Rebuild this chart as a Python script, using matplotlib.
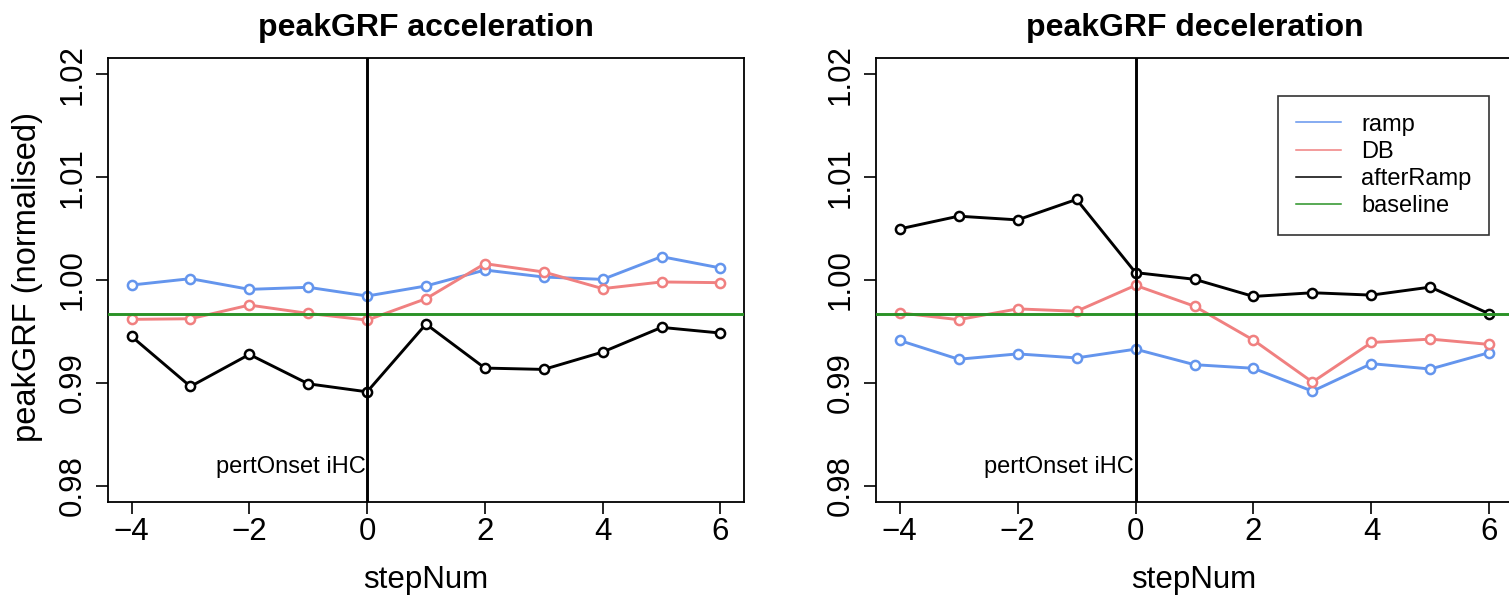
import matplotlib
matplotlib.use("Agg")
import matplotlib.pyplot as plt
from matplotlib.lines import Line2D

plt.rcParams["font.family"] = ["Liberation Sans", "DejaVu Sans"]

# -------------------------------
# Data
# -------------------------------

step_num = [-4, -3, -2, -1, 0, 1, 2, 3, 4, 5, 6]

acc_ramp = [0.99951, 1.00013, 0.99909, 0.99929, 0.99844, 0.99942,
            1.00097, 1.00029, 1.00006, 1.00227, 1.00117]
acc_db = [0.99617, 0.99623, 0.99756, 0.99675, 0.99610, 0.99818,
          1.00159, 1.00078, 0.99916, 0.99981, 0.99974]
acc_after = [0.99451, 0.98964, 0.99276, 0.98990, 0.98912, 0.99571,
             0.99143, 0.99130, 0.99299, 0.99539, 0.99484]

dec_ramp = [0.99412, 0.99229, 0.99281, 0.99242, 0.99327, 0.99176,
            0.99141, 0.98918, 0.99186, 0.99134, 0.99294]
dec_db = [0.99680, 0.99614, 0.99719, 0.99696, 0.99948, 0.99745,
          0.99415, 0.99007, 0.99392, 0.99425, 0.99373]
dec_after = [1.00497, 1.00621, 1.00585, 1.00784, 1.00072, 1.00007,
             0.99840, 0.99876, 0.99853, 0.99931, 0.99670]

baseline = 0.99666

titles = ["peakGRF acceleration", "peakGRF deceleration"]
x_ticks = [-4, -2, 0, 2, 4, 6]
y_ticks = [0.98, 0.99, 1.00, 1.01, 1.02]
y_tick_labels = ["0.98", "0.99", "1.00", "1.01", "1.02"]

c_ramp = "#6495ED"
c_db = "#F08080"
c_after = "black"
c_base = "#2A9226"

# -------------------------------
# Figure
# -------------------------------

W, H = 1509, 596
fig = plt.figure(figsize=(W / 100, H / 100), dpi=100)

ax_left = fig.add_axes([108 / W, (H - 502) / H, 636 / W, 444 / H])
ax_right = fig.add_axes([876 / W, (H - 502) / H, 637 / W, 444 / H])

panels = [
    (ax_left, acc_ramp, acc_db, acc_after),
    (ax_right, dec_ramp, dec_db, dec_after),
]

for i, (ax, ramp, db, after) in enumerate(panels):

    for series, col in [(ramp, c_ramp), (db, c_db), (after, c_after)]:
        ax.plot(
            step_num, series,
            color=col, linewidth=2.1,
            marker="o", markersize=6.6,
            markeredgewidth=1.8, markerfacecolor="white",
            zorder=3
        )

    ax.axhline(baseline, color=c_base, linewidth=2.1, zorder=4)
    ax.axvline(0, color="black", linewidth=2.1, zorder=5)

    ax.text(-0.03, 0.9812, "pertOnset iHC", ha="right",
            va="baseline", fontsize=17)

    ax.set_xlim(-4.4, 6.4)
    ax.set_ylim(0.9784, 1.0216)

    ax.set_xticks(x_ticks)
    ax.set_yticks(y_ticks)
    ax.set_yticklabels(y_tick_labels, rotation=90, va="center")

    ax.tick_params(axis="both", direction="out", length=8.6,
                   width=1.2, labelsize=22.5)
    ax.tick_params(axis="x", pad=2)
    ax.tick_params(axis="y", pad=6)

    for sp in ax.spines.values():
        sp.set_linewidth(1.3)

    ax.set_title(titles[i], fontsize=23, fontweight="bold", pad=16)

    cx = ax.get_position().x0 + ax.get_position().width / 2
    if i == 1:
        cx = (876 + 318) / W
    fig.text(cx, 8 / H, "stepNum", ha="center", va="baseline", fontsize=22.5)

fig.text(28 / W, (H - 277) / H, "peakGRF (normalised)", rotation=90,
         ha="center", va="center", fontsize=23.5)

handles = [
    Line2D([], [], color=c_ramp, linewidth=1.1),
    Line2D([], [], color=c_db, linewidth=1.1),
    Line2D([], [], color=c_after, linewidth=1.1),
    Line2D([], [], color=c_base, linewidth=1.1),
]
leg = ax_right.legend(
    handles, ["ramp", "DB", "afterRamp", "baseline"],
    loc="upper right",
    bbox_to_anchor=(1489 / W, (H - 96) / H),
    bbox_transform=fig.transFigure,
    fontsize=17, frameon=True, fancybox=False,
    handlelength=1.9, handletextpad=0.85,
    borderpad=0.75, labelspacing=0.22, borderaxespad=0
)
leg.get_frame().set_edgecolor("black")
leg.get_frame().set_linewidth(1.2)

fig.savefig("out.png", dpi=100)
